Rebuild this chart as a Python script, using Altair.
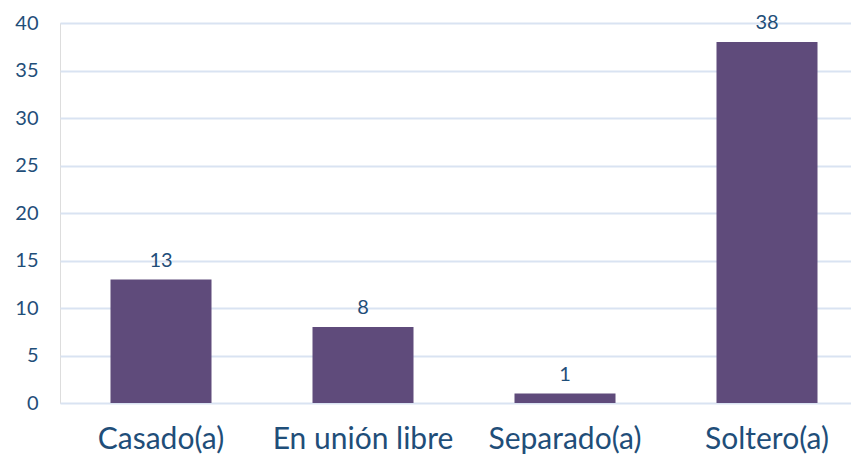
import altair as alt
import pandas as pd

categories = ["Casado(a)", "En unión libre", "Separado(a)", "Soltero(a)"]
values = [13, 8, 1, 38]
y_ticks = [0, 5, 10, 15, 20, 25, 30, 35, 40]

df = pd.DataFrame({"cat": categories, "val": values})

TEXT = "#1F4E79"
BAR = "#5F4B7B"
GRID = "#D9E3F2"
FONT = "Lato"

x_enc = alt.X("cat:N", sort=categories, title=None,
              scale=alt.Scale(range=[0, 808], paddingInner=0.5, paddingOuter=0.25),
              axis=alt.Axis(labelAngle=0, labelFontSize=30, labelColor=TEXT, labelFont=FONT,
                            labelLimit=1000, ticks=False, domain=False, labelPadding=21, grid=False))
y_enc = alt.Y("val:Q", title=None,
              scale=alt.Scale(domain=[0, 40], nice=False),
              axis=alt.Axis(values=y_ticks, labelFontSize=20, labelColor=TEXT, labelFont=FONT,
                            ticks=False, domain=False, labelPadding=22,
                            grid=True, gridColor=GRID, gridWidth=2))

base = alt.Chart(df).encode(x=x_enc, y=y_enc)
bars = base.mark_bar(color=BAR, size=101)
labels = base.mark_text(dy=-19, fontSize=20, color=TEXT, font=FONT, baseline="middle").encode(text="val:Q")

chart = alt.layer(bars, labels).properties(
    width=791, height=380,
    autosize=alt.AutoSizeParams(type="none"),
    padding={"left": 52, "top": 15, "right": 0, "bottom": 56},
).configure_view(strokeWidth=0).configure_axis(domain=False).configure(background="white")

chart.save("out.html", embed_options={"renderer": "svg", "actions": False})
